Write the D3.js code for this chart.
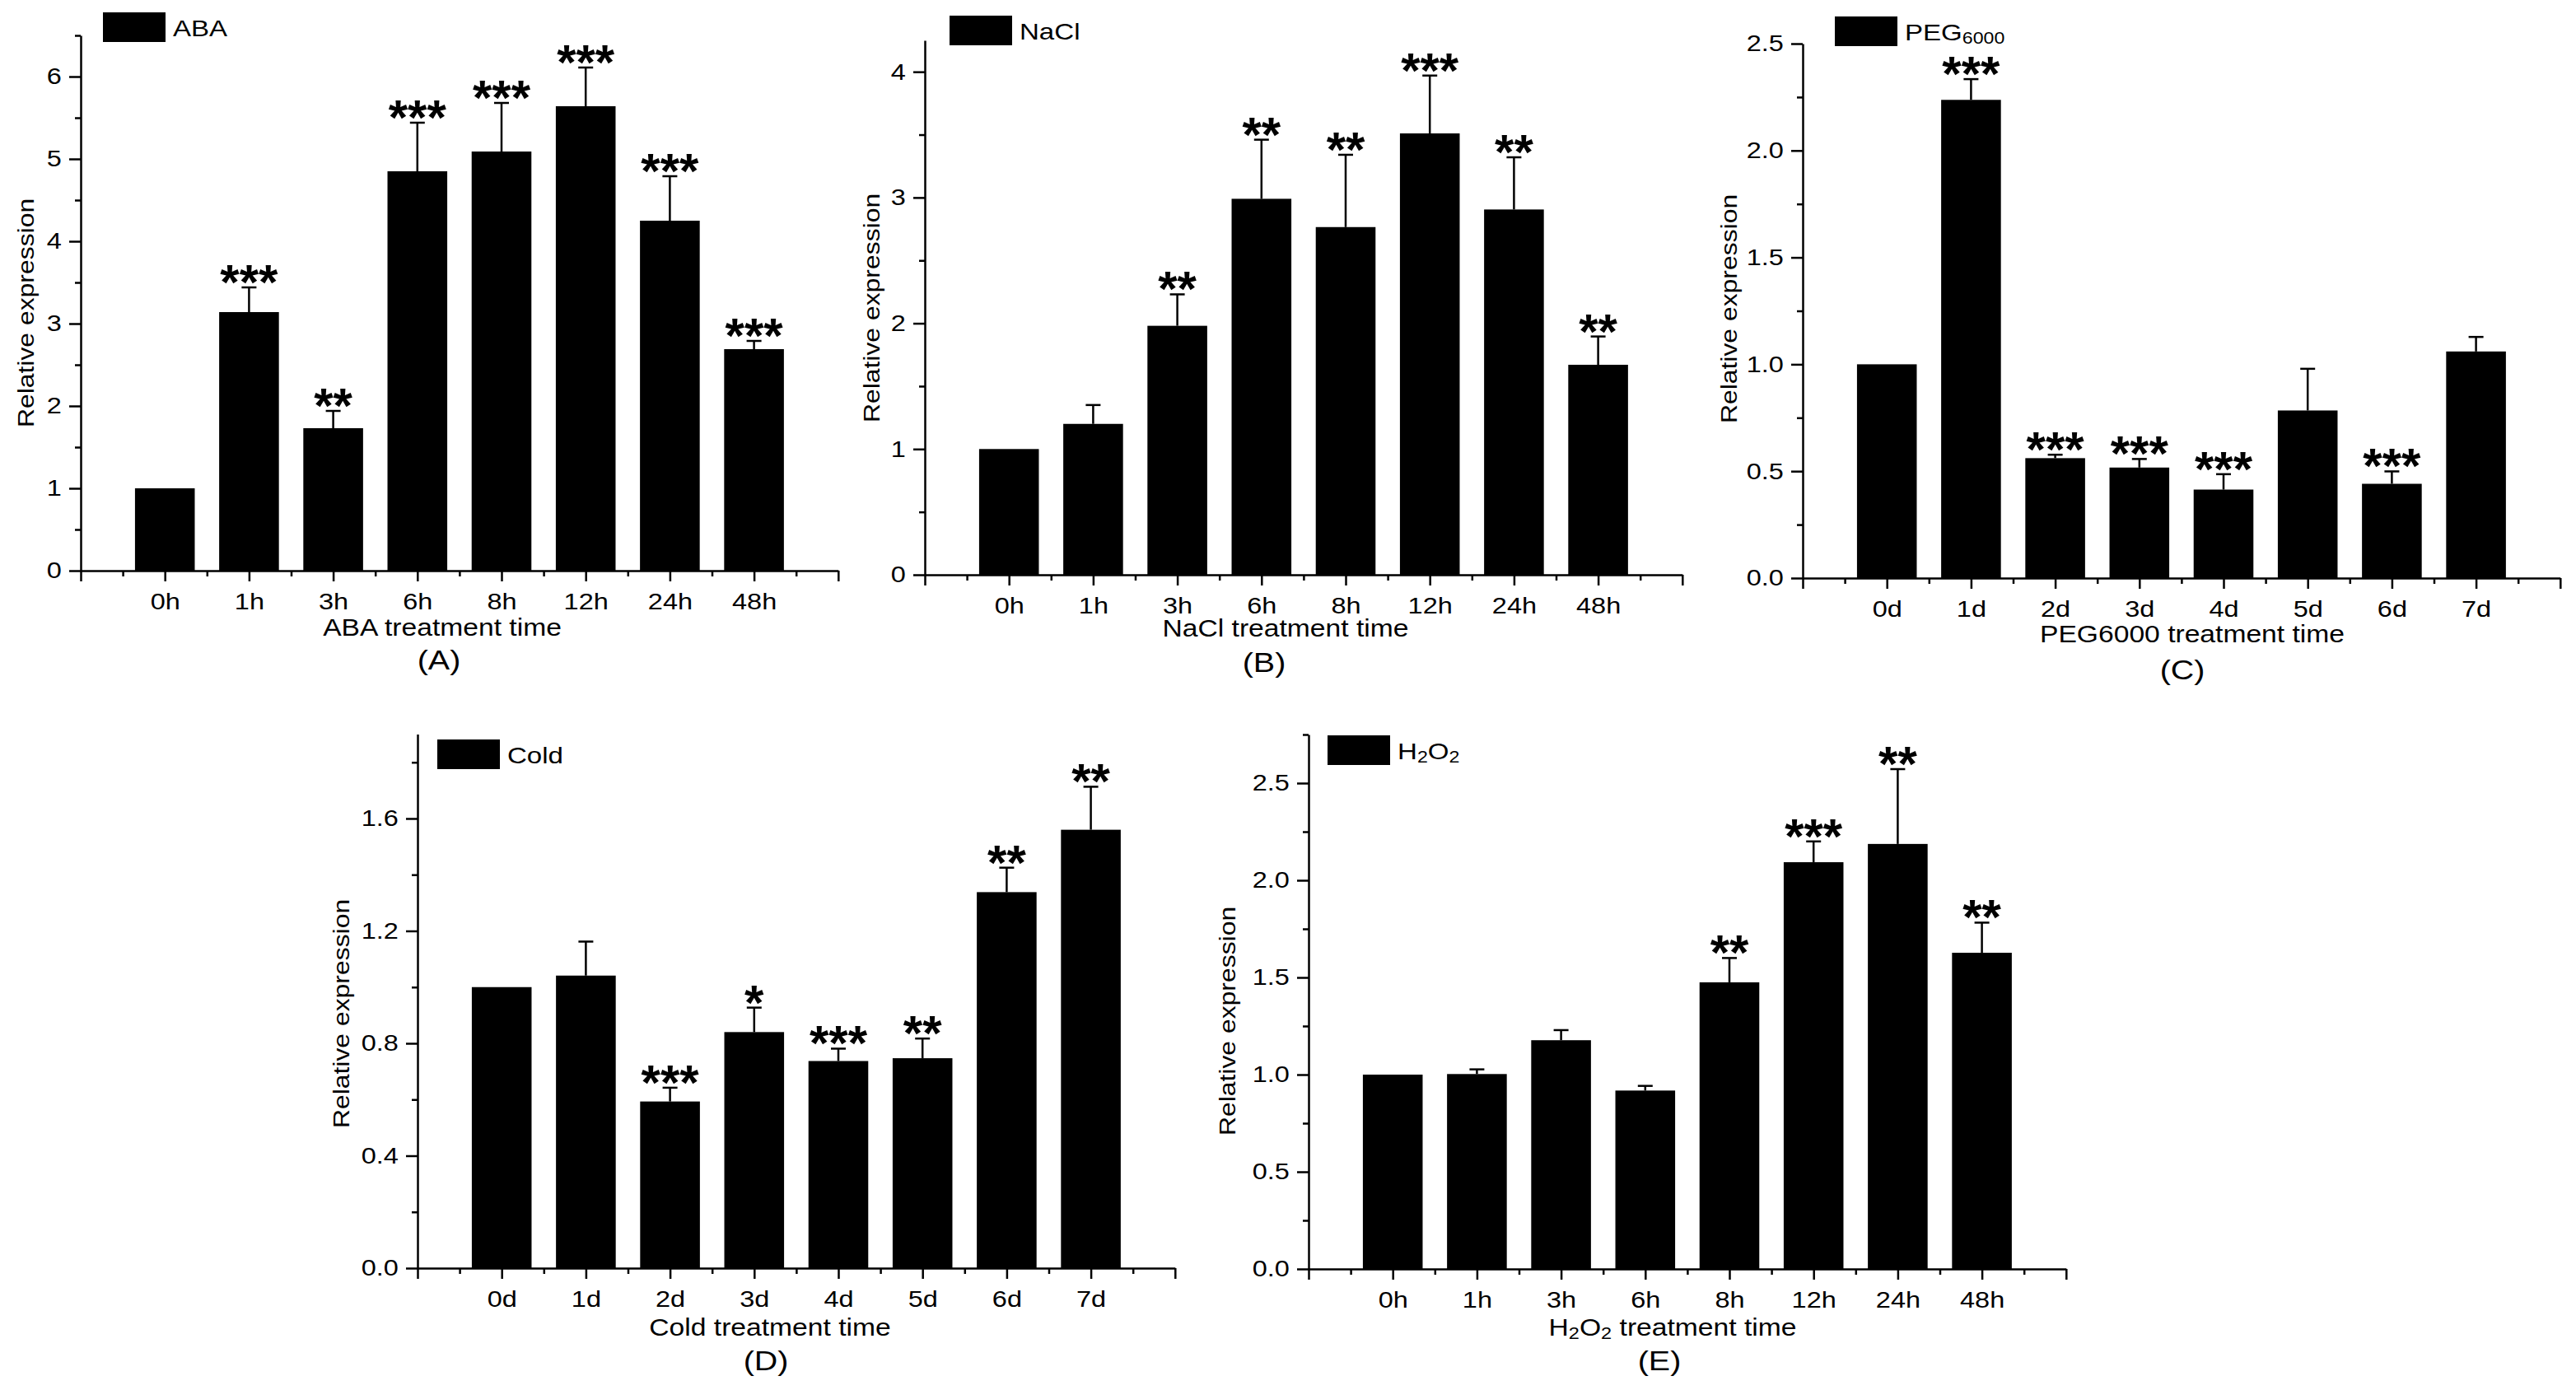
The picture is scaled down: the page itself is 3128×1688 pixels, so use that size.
<!DOCTYPE html>
<html>
<head>
<meta charset="utf-8">
<script src="https://cdn.jsdelivr.net/npm/d3@7"></script>
<style>
  body { margin: 0; background: #fff; }
  svg text { font-family: "Liberation Sans", Arial, sans-serif; fill: #000; }
</style>
</head>
<body>
<svg id="chart" width="3128" height="1688"></svg>
<script>
// categories
const hourCats = ["0h", "1h", "3h", "6h", "8h", "12h", "24h", "48h"];
const dayCats = ["0d", "1d", "2d", "3d", "4d", "5d", "6d", "7d"];

// ABA
const abaMean = [1.00, 3.14, 1.73, 4.85, 5.09, 5.64, 4.25, 2.69];
const abaSD = [0, 0.30, 0.21, 0.59, 0.59, 0.47, 0.54, 0.10];
const abaSig = ["", "***", "**", "***", "***", "***", "***", "***"];
const abaYTicks = [0, 1, 2, 3, 4, 5, 6];

// NaCl
const naclMean = [1.00, 1.20, 1.98, 2.99, 2.765, 3.51, 2.905, 1.67];
const naclSD = [0, 0.15, 0.25, 0.47, 0.575, 0.46, 0.415, 0.225];
const naclSig = ["", "", "**", "**", "**", "***", "**", "**"];
const naclYTicks = [0, 1, 2, 3, 4];

// PEG6000
const pegMean = [1.00, 2.237, 0.561, 0.517, 0.414, 0.784, 0.441, 1.06];
const pegSD = [0, 0.097, 0.016, 0.04, 0.072, 0.195, 0.058, 0.068];
const pegSig = ["", "***", "***", "***", "***", "", "***", ""];
const pegYTicks = [0, 0.5, 1.0, 1.5, 2.0, 2.5];

// Cold
const coldMean = [1.00, 1.041, 0.593, 0.840, 0.737, 0.747, 1.338, 1.560];
const coldSD = [0, 0.121, 0.049, 0.087, 0.044, 0.07, 0.087, 0.153];
const coldSig = ["", "", "***", "*", "***", "**", "**", "**"];
const coldYTicks = [0, 0.4, 0.8, 1.2, 1.6];

// H2O2
const h2o2Mean = [1.00, 1.003, 1.177, 0.918, 1.475, 2.093, 2.187, 1.627];
const h2o2SD = [0, 0.024, 0.052, 0.024, 0.125, 0.107, 0.385, 0.155];
const h2o2Sig = ["", "", "", "", "**", "***", "**", "**"];
const h2o2YTicks = [0, 0.5, 1.0, 1.5, 2.0, 2.5];

// text pieces, [text, subscript?]
const abaLegend = [["ABA", false]];
const naclLegend = [["NaCl", false]];
const pegLegend = [["PEG", false], ["6000", true]];
const coldLegend = [["Cold", false]];
const h2o2Legend = [["H", false], ["2", true], ["O", false], ["2", true]];

const abaTitle = [["ABA treatment time", false]];
const naclTitle = [["NaCl treatment time", false]];
const pegTitle = [["PEG6000 treatment time", false]];
const coldTitle = [["Cold treatment time", false]];
const h2o2Title = [["H", false], ["2", true], ["O", false], ["2", true], [" treatment time", false]];

const slot = 102.2;
const barFrac = 0.71;
const wide = 1.16;   // the figure's lettering is a bit wider than plain Arial

const panels = [
  { cats: hourCats, mean: abaMean, sd: abaSD, sig: abaSig, yTicks: abaYTicks, yMax: 6.5, minor: 0.5, fmt: d3.format("d"),
    ax: 98, zero: 693, top: 43, legend: abaLegend, legendPos: [125, 15], yLab: [41, 380],
    title: abaTitle, titlePos: [537, 772], tag: "(A)", tagPos: [533, 813] },
  { cats: hourCats, mean: naclMean, sd: naclSD, sig: naclSig, yTicks: naclYTicks, yMax: 4.25, minor: 0.5, fmt: d3.format("d"),
    ax: 1123, zero: 698, top: 49, legend: naclLegend, legendPos: [1153, 19], yLab: [1068, 374],
    title: naclTitle, titlePos: [1561, 773], tag: "(B)", tagPos: [1535, 816] },
  { cats: dayCats, mean: pegMean, sd: pegSD, sig: pegSig, yTicks: pegYTicks, yMax: 2.5, minor: 0.25, fmt: d3.format(".1f"),
    ax: 2189, zero: 702, top: 53, legend: pegLegend, legendPos: [2228, 20], yLab: [2109, 375],
    title: pegTitle, titlePos: [2662, 780], tag: "(C)", tagPos: [2650, 825] },
  { cats: dayCats, mean: coldMean, sd: coldSD, sig: coldSig, yTicks: coldYTicks, yMax: 1.9, minor: 0.2, fmt: d3.format(".1f"),
    ax: 507, zero: 1540, top: 891.6, legend: coldLegend, legendPos: [531, 898], yLab: [424, 1231],
    title: coldTitle, titlePos: [935, 1622], tag: "(D)", tagPos: [930, 1664] },
  { cats: hourCats, mean: h2o2Mean, sd: h2o2SD, sig: h2o2Sig, yTicks: h2o2YTicks, yMax: 2.75, minor: 0.25, fmt: d3.format(".1f"),
    ax: 1589, zero: 1541, top: 892, legend: h2o2Legend, legendPos: [1612, 893], yLab: [1500, 1240],
    title: h2o2Title, titlePos: [2031, 1622], tag: "(E)", tagPos: [2015, 1664] }
];

const svg = d3.select("#chart");
svg.append("rect").attr("width", 3128).attr("height", 1688).attr("fill", "#fff");

// writes text with optional subscript pieces
function richText(sel, parts, size) {
  let shifted = false;
  parts.forEach(([t, sub]) => {
    const ts = sel.append("tspan").text(t);
    if (sub && !shifted) { ts.attr("font-size", size * 0.7).attr("dy", 4); shifted = true; }
    else if (!sub && shifted) { ts.attr("font-size", size).attr("dy", -4); shifted = false; }
    else ts.attr("font-size", sub ? size * 0.7 : size);
  });
}

function drawPanel(p) {
  const g = svg.append("g");
  const x = d3.scaleLinear().domain([-1, 8]).range([p.ax, p.ax + 9 * slot]);
  const y = d3.scaleLinear().domain([0, p.yMax]).range([p.zero, p.top]);
  const bw = slot * barFrac;
  const data = p.cats.map((c, i) => ({ i, c, m: p.mean[i], s: p.sd[i], sig: p.sig[i] }));

  // bars
  g.selectAll(".bar").data(data).join("rect").attr("class", "bar")
    .attr("x", d => x(d.i) - bw / 2)
    .attr("y", d => y(d.m))
    .attr("width", bw)
    .attr("height", d => y(0) - y(d.m))
    .attr("fill", "#000");

  // error bars (upper only)
  const eb = data.filter(d => d.s > 0);
  g.selectAll(".err").data(eb).join("line").attr("class", "err")
    .attr("x1", d => x(d.i)).attr("x2", d => x(d.i))
    .attr("y1", d => y(d.m)).attr("y2", d => y(d.m + d.s))
    .attr("stroke", "#000").attr("stroke-width", 2.5);
  g.selectAll(".cap").data(eb).join("line").attr("class", "cap")
    .attr("x1", d => x(d.i) - 9).attr("x2", d => x(d.i) + 9)
    .attr("y1", d => y(d.m + d.s)).attr("y2", d => y(d.m + d.s))
    .attr("stroke", "#000").attr("stroke-width", 2.5);

  // significance stars
  g.selectAll(".sig").data(data.filter(d => d.sig)).join("text").attr("class", "sig")
    .attr("x", d => x(d.i))
    .attr("y", d => y(d.m + d.s) + 14)
    .attr("text-anchor", "middle")
    .attr("font-size", 60)
    .attr("font-weight", "bold")
    .text(d => d.sig);

  // x axis: major ticks on every slot, minor halfway
  const xAxis = g.append("g").attr("transform", `translate(0,${p.zero})`)
    .call(d3.axisBottom(x).tickValues(d3.range(-1, 9)).tickSize(13).tickSizeOuter(0).tickPadding(14)
      .tickFormat(i => p.cats[i] || ""));
  xAxis.selectAll("text").attr("font-size", 28).attr("font-family", null)
    .attr("transform", `scale(${wide},1)`);
  g.append("g").attr("transform", `translate(0,${p.zero})`)
    .call(d3.axisBottom(x).tickValues(d3.range(-0.5, 8, 1)).tickSize(7).tickFormat(""))
    .select(".domain").remove();

  // y axis
  const minors = d3.range(0, p.yMax + 1e-6, p.minor).filter(v => !p.yTicks.some(t => Math.abs(t - v) < 1e-6));
  const yAxis = g.append("g").attr("transform", `translate(${p.ax},0)`)
    .call(d3.axisLeft(y).tickValues(p.yTicks).tickSize(14).tickSizeOuter(0).tickPadding(6).tickFormat(p.fmt));
  yAxis.selectAll("text").attr("font-size", 28).attr("font-family", null)
    .attr("transform", `scale(${wide},1)`);
  g.append("g").attr("transform", `translate(${p.ax},0)`)
    .call(d3.axisLeft(y).tickValues(minors).tickSize(7).tickFormat(""))
    .select(".domain").remove();

  g.selectAll(".domain, .tick line").attr("stroke", "#000").attr("stroke-width", 2.5);

  // y title
  g.append("text")
    .attr("transform", `translate(${p.yLab[0]},${p.yLab[1]}) rotate(-90) scale(${wide},1)`)
    .attr("text-anchor", "middle")
    .attr("font-size", 27.5)
    .text("Relative expression");

  // legend
  g.append("rect")
    .attr("x", p.legendPos[0]).attr("y", p.legendPos[1])
    .attr("width", 76).attr("height", 36).attr("fill", "#000");
  const lt = g.append("text")
    .attr("transform", `translate(${p.legendPos[0] + 85},${p.legendPos[1] + 29}) scale(${wide},1)`)
    .attr("font-size", 28.5);
  richText(lt, p.legend, 28.5);

  // x title and panel tag
  const tt = g.append("text")
    .attr("transform", `translate(${p.titlePos[0]},${p.titlePos[1]}) scale(${wide},1)`)
    .attr("text-anchor", "middle").attr("font-size", 29);
  richText(tt, p.title, 29);
  g.append("text")
    .attr("transform", `translate(${p.tagPos[0]},${p.tagPos[1]}) scale(${wide},1)`)
    .attr("text-anchor", "middle").attr("font-size", 34)
    .text(p.tag);
}

panels.forEach(drawPanel);
</script>
</body>
</html>
